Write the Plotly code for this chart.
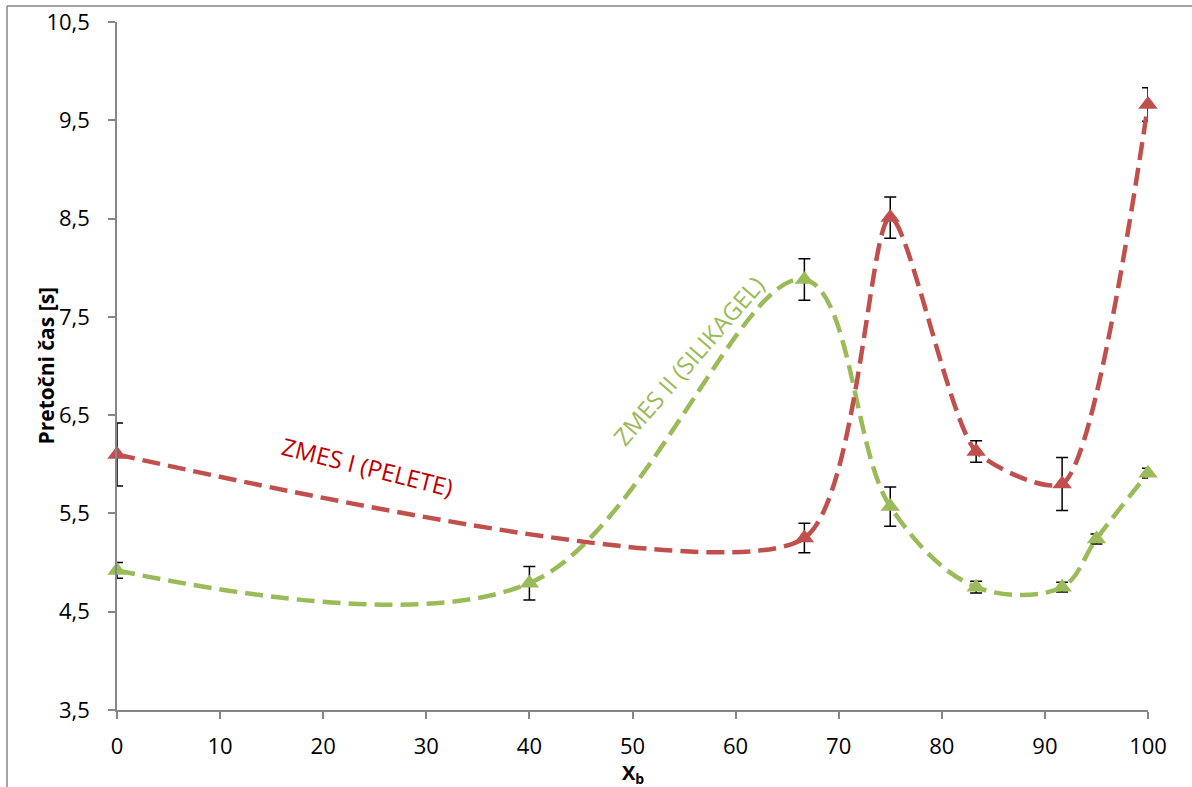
import plotly.graph_objects as go

# Mixture I (pellets)
x_pel = [0, 66.67, 75, 83.33, 91.67, 100]
y_pel = [6.10, 5.25, 8.51, 6.13, 5.80, 9.66]
err_pel = [0.32, 0.15, 0.21, 0.11, 0.27, 0.17]

# Mixture II (silica gel)
x_sil = [0, 40, 66.67, 75, 83.33, 91.67, 95, 100]
y_sil = [4.92, 4.79, 7.88, 5.57, 4.75, 4.75, 5.24, 5.91]
err_sil = [0.08, 0.17, 0.21, 0.20, 0.06, 0.05, 0.05, 0.05]

y_ticks = [3.5, 4.5, 5.5, 6.5, 7.5, 8.5, 9.5, 10.5]
y_tick_text = ["3,5", "4,5", "5,5", "6,5", "7,5", "8,5", "9,5", "10,5"]
x_ticks = list(range(0, 101, 10))

RED = "#C0504D"
GREEN = "#9BBB59"
AXIS = "#868686"
FONT = "Open Sans"

fig = go.Figure()

for xs, ys, es, col, smooth in [(x_sil, y_sil, err_sil, GREEN, 1.0),
                                (x_pel, y_pel, err_pel, RED, 0.65)]:
    fig.add_trace(go.Scatter(
        x=xs, y=ys, mode="lines+markers", cliponaxis=False,
        line=dict(color=col, width=4.5, shape="spline", smoothing=smooth,
                  dash="18px,8px"),
        marker=dict(symbol="triangle-up", size=17, color=col),
        error_y=dict(type="data", array=es, visible=True, color="black",
                     thickness=1.5, width=6),
        showlegend=False,
    ))

fig.update_xaxes(
    range=[0, 100], tickvals=x_ticks, ticks="outside", ticklen=7,
    tickcolor=AXIS, tickwidth=1.5, showline=True, linecolor=AXIS, linewidth=1.5,
    showgrid=False, zeroline=False, ticklabelstandoff=9, automargin=False,
    tickfont=dict(size=22, color="black", family=FONT),
)
fig.update_yaxes(
    range=[3.5, 10.5], tickvals=y_ticks, ticktext=y_tick_text, ticks="outside",
    ticklen=7, tickcolor=AXIS, tickwidth=1.5, showline=True, linecolor=AXIS,
    linewidth=1.5, showgrid=False, zeroline=False, ticklabelstandoff=14,
    automargin=False, tickfont=dict(size=22, color="black", family=FONT),
)

fig.add_annotation(text="<b>Pretočni čas [s]</b>", xref="paper", yref="paper",
                   x=-0.084, y=0.5, textangle=-90, showarrow=False,
                   font=dict(size=21, color="black", family=FONT))
fig.add_annotation(text="<b>X<sub>b</sub></b>", xref="paper", yref="paper",
                   x=0.5, y=-0.093, showarrow=False, yanchor="middle",
                   font=dict(size=20, color="black", family=FONT))

fig.add_annotation(text="ZMES I (PELETE)", x=24.3, y=5.98, textangle=14,
                   showarrow=False, font=dict(size=24, color="#C00000", family=FONT))
fig.add_annotation(text="ZMES II (SILIKAGEL)", x=55.4, y=7.06, textangle=-49,
                   showarrow=False, font=dict(size=24, color=GREEN, family=FONT))

# outer chart frame (top and left edges visible)
fig.add_shape(type="line", xref="paper", yref="paper", x0=-0.1067, x1=1.2,
              y0=1.0233, y1=1.0233, line=dict(color=AXIS, width=1.5))
fig.add_shape(type="line", xref="paper", yref="paper", x0=-0.1067, x1=-0.1067,
              y0=1.0233, y1=-0.2, line=dict(color=AXIS, width=1.5))

fig.update_layout(
    width=1192, height=787, margin=dict(l=117, r=44, t=22, b=77),
    plot_bgcolor="white", paper_bgcolor="white",
    font=dict(family=FONT),
)

fig.write_html("out.html")
